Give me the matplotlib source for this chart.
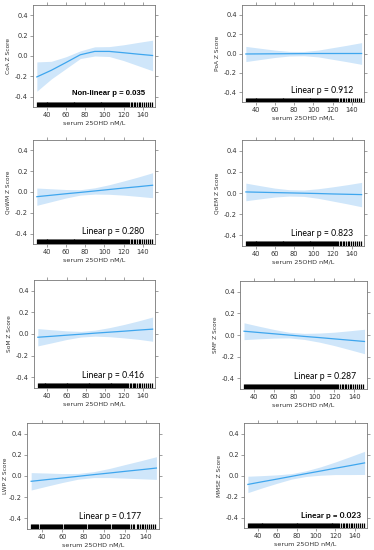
"""
Vitamin D (serum 25OHD) vs cognitive Z scores, 8 panel spline plots
"""

import numpy as np
import matplotlib
matplotlib.use('Agg')
import matplotlib.pyplot as plt
import matplotlib.transforms as mtransforms

x_grid = [30, 45, 60, 75, 90, 105, 120, 135, 150]

labels = ['CoA Z Score', 'PoA Z Score', 'QoWM Z Score', 'QoEM Z Score',
          'SoM Z Score', 'SMF Z Score', 'LWP Z Score', 'MMSE Z Score']
p_texts = ['Non-linear p = 0.035', 'Linear p = 0.912', 'Linear p = 0.280', 'Linear p = 0.823',
           'Linear p = 0.416', 'Linear p = 0.287', 'Linear p = 0.177', 'Linear p = 0.023']

fit_coa = [-0.205, -0.14, -0.065, 0.012, 0.045, 0.045, 0.032, 0.018, 0.005]
low_coa = [-0.345, -0.225, -0.125, -0.025, 0.0, -0.005, -0.045, -0.095, -0.145]
up_coa = [-0.058, -0.052, -0.008, 0.05, 0.09, 0.092, 0.11, 0.133, 0.155]

fit_poa = [-0.005, -0.004, -0.003, -0.002, -0.001, 0.0, 0.0, 0.0, 0.0]
hw_poa = [0.078, 0.058, 0.038, 0.024, 0.022, 0.035, 0.06, 0.085, 0.112]

fit_qowm = [-0.045, -0.031, -0.017, -0.004, 0.010, 0.024, 0.038, 0.051, 0.065]
hw_qowm = [0.083, 0.062, 0.041, 0.026, 0.03, 0.046, 0.068, 0.093, 0.12]

fit_qoem = [0.010, 0.007, 0.004, 0.001, -0.002, -0.005, -0.009, -0.012, -0.015]
hw_qoem = [0.083, 0.062, 0.042, 0.03, 0.03, 0.045, 0.067, 0.09, 0.115]

fit_som = [-0.030, -0.021, -0.011, -0.002, 0.008, 0.017, 0.026, 0.036, 0.045]
hw_som = [0.08, 0.06, 0.04, 0.026, 0.028, 0.042, 0.062, 0.085, 0.112]

fit_smf = [0.035, 0.023, 0.011, -0.001, -0.013, -0.024, -0.036, -0.048, -0.060]
hw_smf = [0.078, 0.058, 0.04, 0.026, 0.028, 0.042, 0.062, 0.087, 0.113]

fit_lwp = [-0.050, -0.034, -0.019, -0.003, 0.013, 0.028, 0.044, 0.059, 0.075]
hw_lwp = [0.082, 0.062, 0.042, 0.027, 0.028, 0.043, 0.064, 0.085, 0.107]

fit_mmse = [-0.085, -0.059, -0.034, -0.008, 0.018, 0.043, 0.069, 0.094, 0.120]
hw_mmse = [0.078, 0.058, 0.04, 0.026, 0.027, 0.04, 0.06, 0.085, 0.11]

# observed serum 25OHD values for the rug (dense low range, sparse high tail)
rug_vals = [30, 31, 32, 33, 34, 35, 36, 37, 38, 39, 40, 41, 42, 43, 44, 45, 46, 47, 48, 49,
            50, 51, 52, 53, 54, 55, 56, 57, 58, 59, 60, 61, 62, 63, 64, 65, 66, 67, 68, 69,
            70, 71, 72, 73, 74, 75, 76, 77, 78, 79, 80, 81, 82, 83, 84, 85, 86, 87, 88, 89,
            90, 91, 92, 93, 94, 95, 96, 97, 98, 99, 100, 101, 102, 103, 104, 105, 106, 107,
            108, 109, 110, 111, 112, 113, 114, 115, 116, 117, 118, 119, 120, 121, 122, 123,
            124, 126, 127.5, 129, 131, 132, 134, 136, 137, 139, 141, 143, 145, 147, 149]

x_ticks = [40, 60, 80, 100, 120, 140]
y_ticks = [-0.4, -0.2, 0.0, 0.2, 0.4]

fits = [fit_coa, fit_poa, fit_qowm, fit_qoem, fit_som, fit_smf, fit_lwp, fit_mmse]
half_widths = [None, hw_poa, hw_qowm, hw_qoem, hw_som, hw_smf, hw_lwp, hw_mmse]

# panel boxes in pixels: left, right, top, bottom
boxes = [(33, 155, 5, 107), (242, 364, 5, 102),
         (33, 155, 140, 244), (242, 364, 140, 246),
         (34, 155, 280, 388), (240, 367, 281, 389),
         (27, 159, 423, 529), (244, 367, 423, 528)]
text_right = [142, 141.5, 141.5, 141.5, 141, 141.5, 135, 146.5]
ylab_pad = [3, 3, 3, 3, 3, 3, 1, 3]

W, H = 374, 550
fig = plt.figure(figsize=(W / 100, H / 100), dpi=100)

line_col = '#3ea6ee'
fill_col = '#cfe6fa'
frame_col = '#777777'

for i in range(8):
    l, r, t, b = boxes[i]
    ax = fig.add_axes([l / W, 1 - b / H, (r - l) / W, (b - t) / H])

    fit = np.array(fits[i])
    if i == 0:
        lo, hi = np.array(low_coa), np.array(up_coa)
    else:
        hw = np.array(half_widths[i])
        lo, hi = fit - hw, fit + hw

    ax.fill_between(x_grid, lo, hi, color=fill_col, linewidth=0)
    ax.plot(x_grid, fit, color=line_col, linewidth=0.9)

    # rug along the bottom
    trans = mtransforms.blended_transform_factory(ax.transData, ax.transAxes)
    ax.vlines(rug_vals, 0, 0.045, transform=trans, color='black', linewidth=0.9)

    ax.set_xlim(26, 152.5)
    ax.set_ylim(-0.5, 0.5)
    ax.set_xticks(x_ticks)
    ax.set_yticks(y_ticks)
    ax.set_yticklabels([f'{v:.1f}' for v in y_ticks])

    ax.tick_params(direction='out', length=2, width=0.5, color=frame_col,
                   labelsize=4.8, labelcolor='#333333', pad=1.5,
                   top=True, right=True, labeltop=False, labelright=False)
    for s in ax.spines.values():
        s.set_color(frame_col)
        s.set_linewidth(0.6)

    ax.set_xlabel('serum 25OHD nM/L', fontsize=4.6, color='#333333', labelpad=2)
    ax.set_ylabel(labels[i], fontsize=4.2, color='#333333', labelpad=ylab_pad[i])

    if i == 0:
        ax.text(text_right[i], -0.37, p_texts[i], ha='right', va='center',
                fontsize=5.6, fontweight='bold', family='Liberation Sans')
    elif i == 7:
        ax.text(text_right[i], -0.38, p_texts[i], ha='right', va='center',
                fontsize=6.0, fontweight='bold', family='Lato')
    else:
        ax.text(text_right[i], -0.38, p_texts[i], ha='right', va='center',
                fontsize=6.2, family='Lato')

plt.savefig('out.png', dpi=100)
plt.close()
